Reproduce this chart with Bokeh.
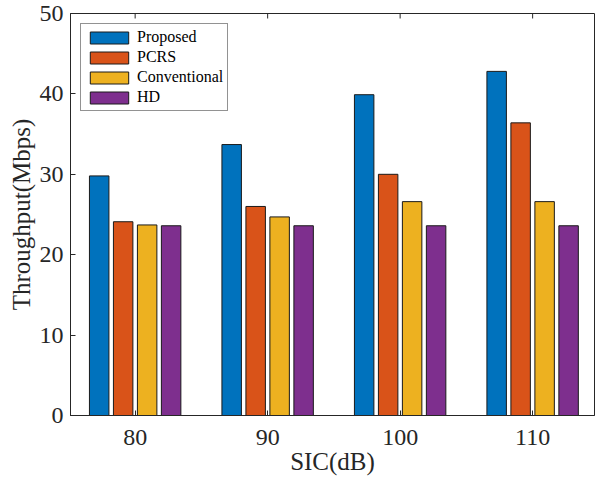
from bokeh.plotting import figure
from bokeh.models import ColumnDataSource, FixedTicker, Range1d
from bokeh.transform import dodge
from bokeh.embed import file_html
from bokeh.resources import INLINE

sic = [80, 90, 100, 110]
proposed = [29.8, 33.7, 39.9, 42.8]
pcrs = [24.1, 26.0, 30.0, 36.4]
conventional = [23.7, 24.7, 26.6, 26.6]
hd = [23.6, 23.6, 23.6, 23.6]
series_names = ["Proposed", "PCRS", "Conventional", "HD"]
y_ticks = [0, 10, 20, 30, 40, 50]

colors = ["#0072BD", "#D95319", "#EDB120", "#7E2F8E"]
offsets = [-2.715, -0.905, 0.905, 2.715]
bar_w = 1.47
FONT = "Liberation Serif"
AX = "#262626"
Y_MAX = 50

src = ColumnDataSource(dict(sic=sic, Proposed=proposed, PCRS=pcrs,
                            Conventional=conventional, HD=hd))

p = figure(width=595, height=485, output_backend="svg", toolbar_location=None,
           x_range=Range1d(75.12, 114.67), y_range=Range1d(0, Y_MAX),
           min_border_left=70, min_border_right=1, min_border_top=13,
           min_border_bottom=70)
p.outline_line_color = AX
p.outline_line_width = 1
p.xgrid.visible = False
p.ygrid.visible = False

for name, c, off in zip(series_names, colors, offsets):
    p.vbar(x=dodge("sic", off, range=p.x_range), top=name, width=bar_w,
           source=src, fill_color=c, line_color="#1a1a1a", line_width=1,
           legend_label=name)

# inward tick marks on the top edge (MATLAB box style)
p.segment(x0=sic, y0=[Y_MAX] * len(sic), x1=sic, y1=[Y_MAX - 0.62] * len(sic),
          line_color=AX, line_width=1)

for ax in (p.xaxis[0], p.yaxis[0]):
    ax.axis_line_color = AX
    ax.axis_line_width = 1
    ax.major_tick_line_color = AX
    ax.major_tick_in = 5
    ax.major_tick_out = 0
    ax.minor_tick_line_color = None
    ax.major_label_text_font = FONT
    ax.major_label_text_font_size = "24px"
    ax.major_label_text_color = AX
    ax.axis_label_text_font = FONT
    ax.axis_label_text_font_size = "25px"
    ax.axis_label_text_font_style = "normal"
    ax.axis_label_text_color = AX

p.xaxis.ticker = FixedTicker(ticks=sic)
p.yaxis.ticker = FixedTicker(ticks=y_ticks)
p.xaxis.axis_label = "SIC(dB)"
p.yaxis.axis_label = "Throughput(Mbps)"
p.xaxis.major_label_standoff = 14
p.xaxis.axis_label_standoff = 0
p.yaxis.major_label_standoff = 7
p.yaxis.axis_label_standoff = 2

lg = p.legend[0]
lg.location = "top_left"
lg.margin = 10
lg.padding = 4
lg.spacing = 2
lg.glyph_width = 48
lg.glyph_height = 15
lg.label_height = 15
lg.label_standoff = 4
lg.label_text_font = FONT
lg.label_text_font_size = "16px"
lg.label_text_color = "black"
lg.border_line_color = AX
lg.border_line_width = 1
lg.background_fill_alpha = 1

open("out.html", "w").write(file_html(p, INLINE))
